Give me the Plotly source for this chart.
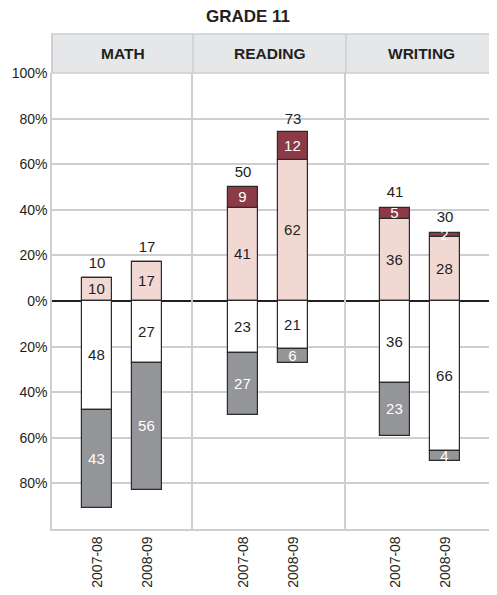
import plotly.graph_objects as go
from plotly.subplots import make_subplots

subjects = ["MATH", "READING", "WRITING"]
years = ["2007-08", "2008-09"]

# upper stack (above 0): proficient (pink) then advanced (dark red)
proficient = [[10, 17], [41, 62], [36, 28]]
advanced = [[0, 0], [9, 12], [5, 2]]
upper_totals = [[10, 17], [50, 73], [41, 30]]
# lower stack (below 0): basic (white) then below basic (gray)
basic = [[48, 27], [23, 21], [36, 66]]
below_basic = [[43, 56], [27, 6], [23, 4]]

tick_vals = [-80, -60, -40, -20, 0, 20, 40, 60, 80, 100]
tick_text = ["80%", "60%", "40%", "20%", "0%", "20%", "40%", "60%", "80%", "100%"]

PINK = "#f2d8d3"
DARKRED = "#8b3a46"
GRAY = "#939598"
HEADER = "#e6e7e8"
GRID = "#cdced0"
EDGE = "#2b2b2b"
FONT = "Liberation Sans, Arial, sans-serif"

fig = make_subplots(
    rows=1, cols=3, shared_yaxes=True, horizontal_spacing=0,
    column_widths=[141, 153, 151],
)

x_ranges = [[-0.9, 1.92], [-1.0, 2.06], [-0.98, 2.04]]


def seg(y, text, fill, txtcolor):
    return go.Bar(
        x=years, y=y, text=text, width=0.6,
        marker=dict(color=fill, line=dict(color=EDGE, width=1.2)),
        textposition="inside", insidetextanchor="middle", textangle=0,
        insidetextfont=dict(color=txtcolor, size=15, family=FONT),
        hoverinfo="skip", showlegend=False, cliponaxis=False,
    )


for i, subj in enumerate(subjects):
    col = i + 1
    fig.add_trace(seg(proficient[i], [str(v) for v in proficient[i]], PINK, "#231f20"), row=1, col=col)
    fig.add_trace(seg(advanced[i], [str(v) if v else "" for v in advanced[i]], DARKRED, "white"), row=1, col=col)
    fig.add_trace(seg([-v for v in basic[i]], [str(v) for v in basic[i]], "white", "#231f20"), row=1, col=col)
    fig.add_trace(seg([-v for v in below_basic[i]], [str(v) for v in below_basic[i]], GRAY, "white"), row=1, col=col)
    # totals above the bars; an invisible marker lifts the text off the bar top
    fig.add_trace(
        go.Scatter(
            x=years, y=upper_totals[i], text=[str(v) for v in upper_totals[i]],
            mode="markers+text", textposition="top center",
            marker=dict(size=9, color="rgba(0,0,0,0)"),
            textfont=dict(size=15, color="#231f20", family=FONT),
            hoverinfo="skip", showlegend=False, cliponaxis=False,
        ),
        row=1, col=col,
    )
    fig.update_xaxes(
        type="category", categoryorder="array", categoryarray=years,
        range=x_ranges[i], showgrid=False, showline=True, linecolor=GRID, linewidth=1.5,
        tickangle=-90, ticks="", tickfont=dict(size=14, color="#231f20", family=FONT),
        automargin=False, fixedrange=True, row=1, col=col,
    )
    fig.update_yaxes(
        range=[-100, 100], tickvals=tick_vals, ticktext=tick_text,
        showgrid=True, gridcolor=GRID, gridwidth=1.5,
        showline=True, linecolor=GRID, linewidth=1.5,
        zeroline=True, zerolinecolor="#231f20", zerolinewidth=2.2,
        showticklabels=(col == 1), ticks="", automargin=False,
        tickfont=dict(size=14, color="#231f20", family=FONT),
        row=1, col=col,
    )

head_top = 1 + 39 / 456
fig.add_shape(type="rect", xref="paper", yref="paper", x0=0, x1=1.01, y0=1, y1=head_top,
              fillcolor=HEADER, line=dict(color=GRID, width=1.5), layer="below")
for i, subj in enumerate(subjects):
    xr = "x domain" if i == 0 else f"x{i + 1} domain"
    fig.add_shape(type="line", xref=xr, yref="paper", x0=0, x1=0, y0=1, y1=head_top,
                  line=dict(color=GRID, width=1.5))
    fig.add_annotation(text=f"<b>{subj}</b>", xref=xr, yref="paper", x=0.5, y=(1 + head_top) / 2,
                       showarrow=False, font=dict(size=15.5, color="#231f20", family=FONT),
                       yanchor="middle")

# page body adds an 8px offset, so the figure is sized to end at the window edge
fig.update_layout(
    width=489, height=587,
    margin=dict(l=44, r=0, t=65, b=66, autoexpand=False),
    barmode="relative",
    bargap=0,
    plot_bgcolor="white", paper_bgcolor="white",
    title=dict(text="<b>GRADE 11</b>", x=(248 - 8) / 489, xref="container", y=1 - 8 / 587,
               yanchor="middle", font=dict(size=17, color="#231f20", family=FONT),
               automargin=False),
    uniformtext=dict(mode="show", minsize=15),
)

fig.write_html("out.html")
